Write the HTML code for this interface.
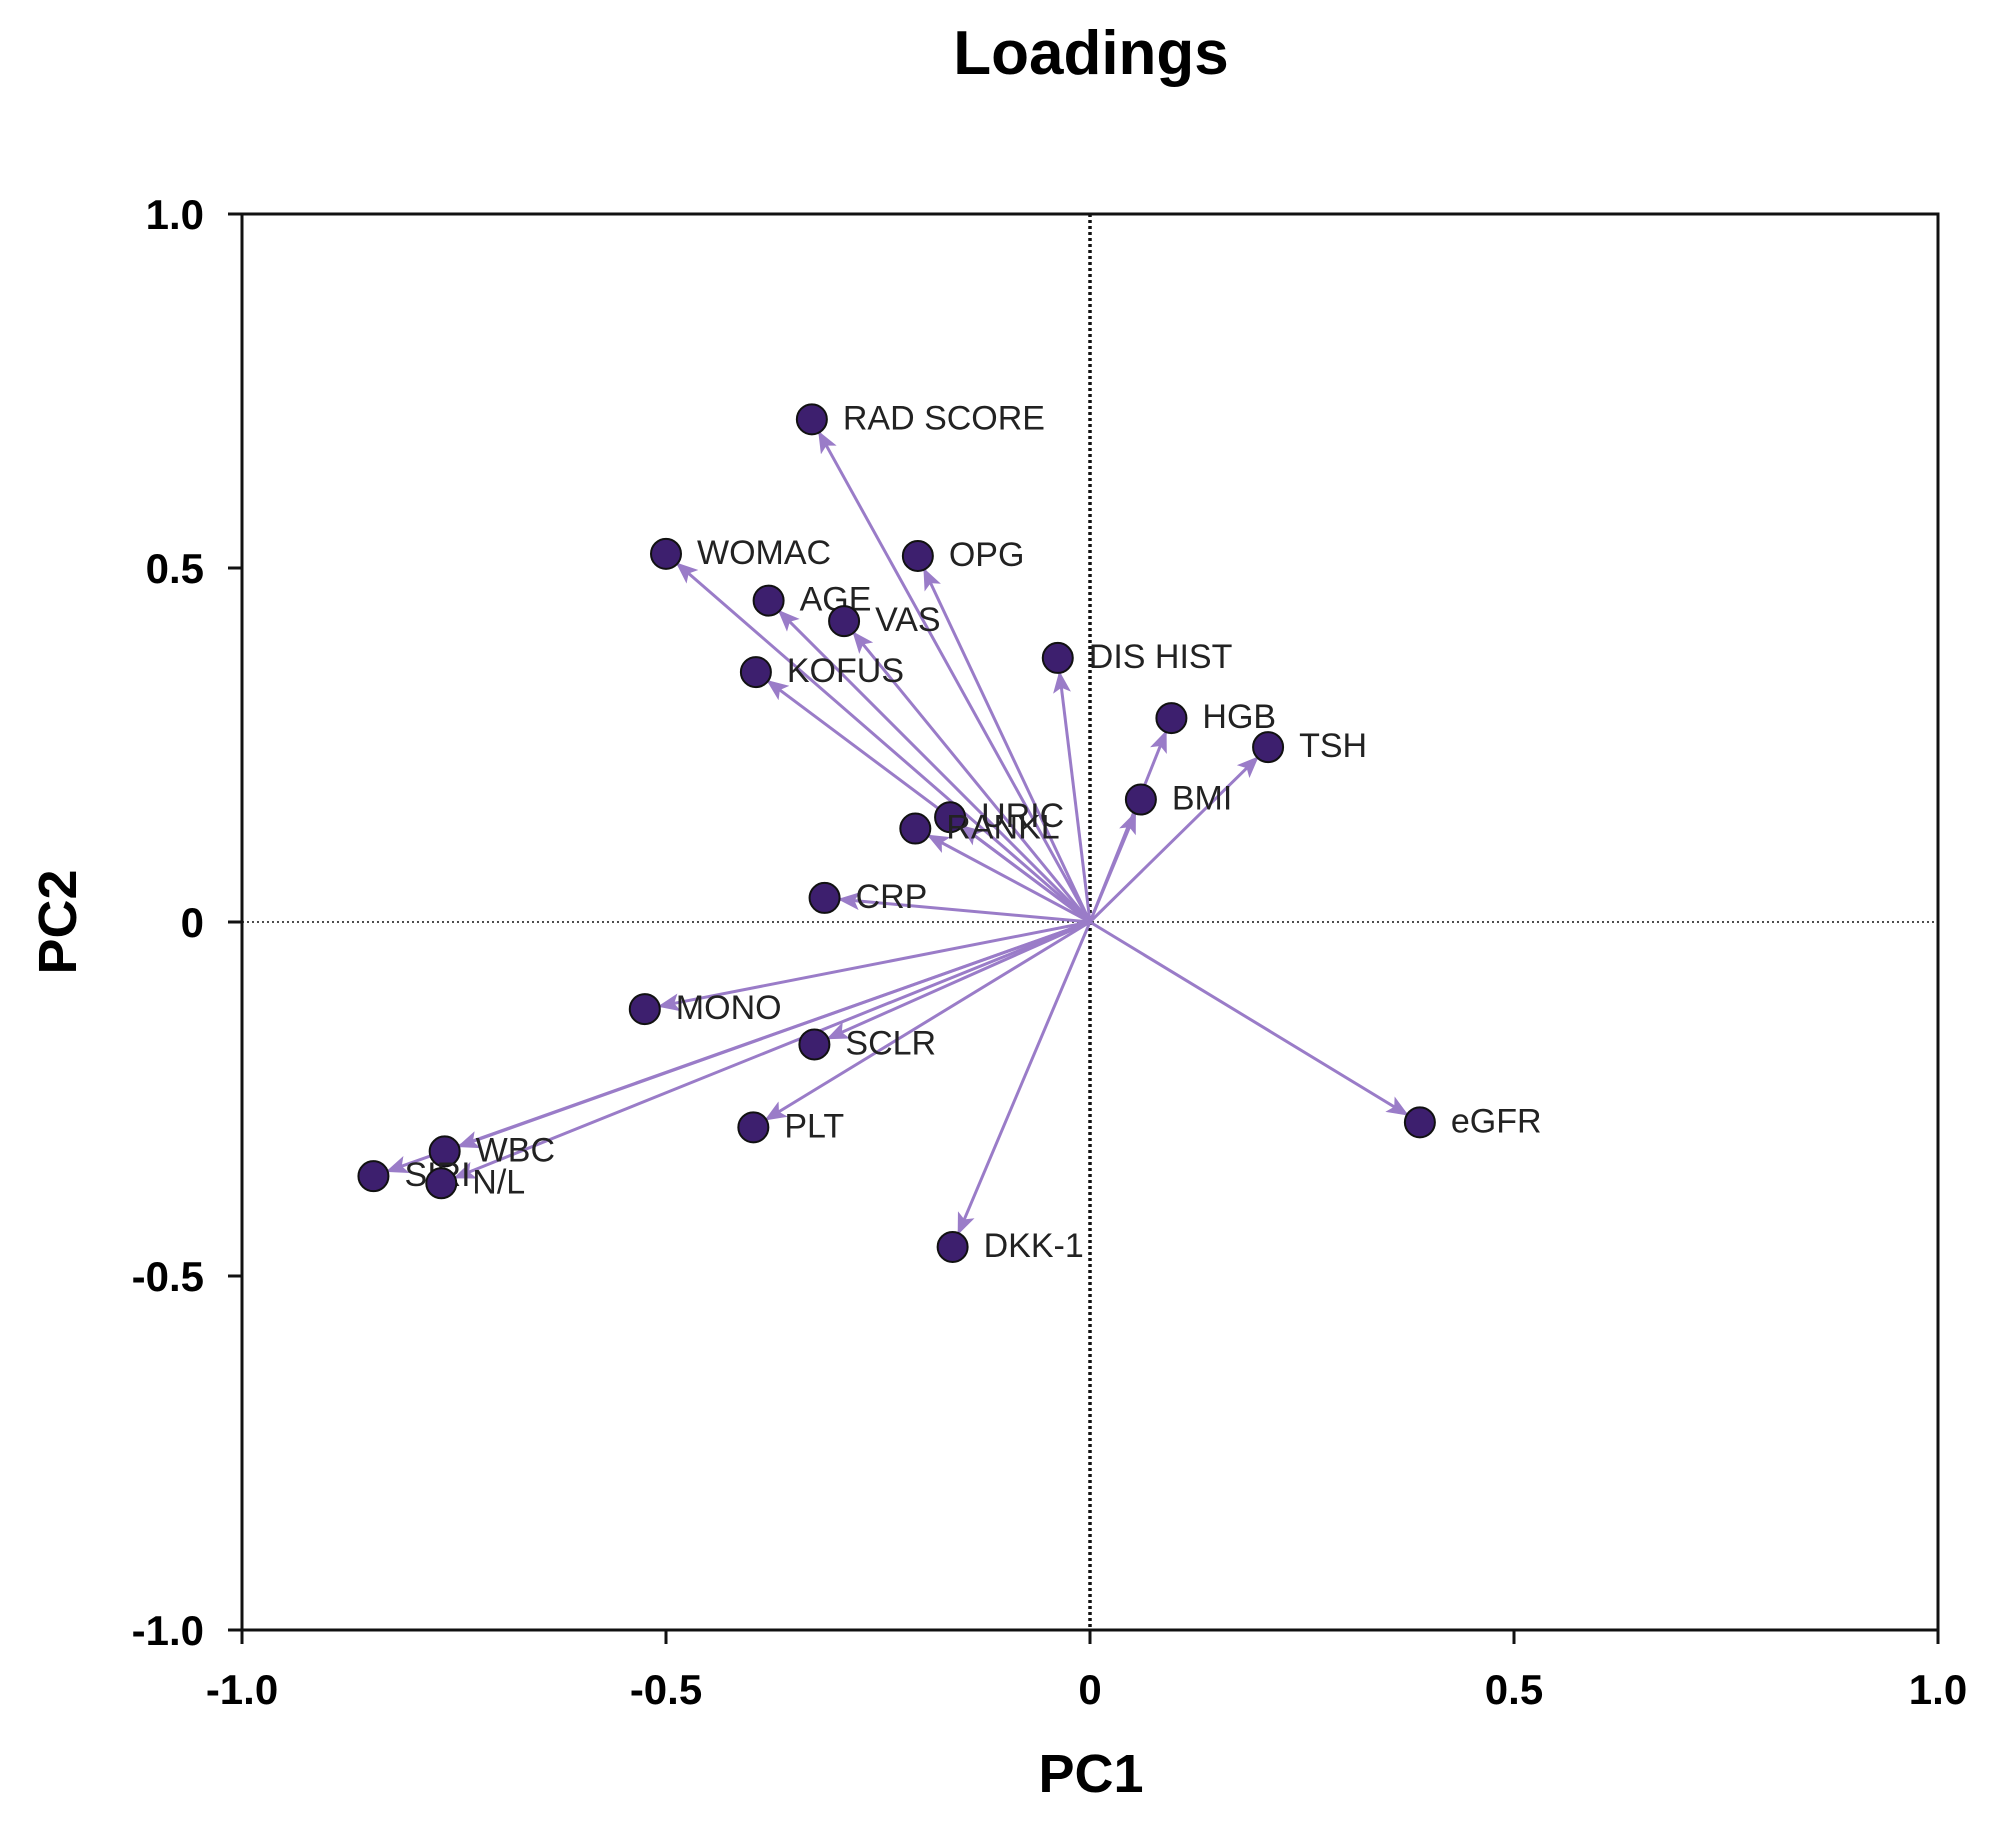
<!DOCTYPE html>
<html><head><meta charset="utf-8"><style>
html,body{margin:0;padding:0;background:#fff;}
svg{display:block;font-family:"Liberation Sans",Arial,sans-serif;}
</style></head><body>
<svg id="chart" width="2000" height="1831" viewBox="0 0 2000 1831" xmlns="http://www.w3.org/2000/svg">
<defs>
<marker id="ah" markerWidth="22" markerHeight="18" refX="20" refY="9" orient="auto" markerUnits="userSpaceOnUse" viewBox="0 0 22 18">
<path d="M0,0 L22,9 L0,18 L5,9 z" fill="#9a7cc8"/>
</marker>
</defs>
<text x="1091" y="74" text-anchor="middle" font-size="62" font-weight="bold">Loadings</text>
<text x="1091" y="1792" text-anchor="middle" font-size="54" font-weight="bold">PC1</text>
<text transform="translate(76,922) rotate(-90)" text-anchor="middle" font-size="54" font-weight="bold">PC2</text>
<g id="axes"></g>
<g id="arrows"></g>
<g id="points"></g>
</svg>
<script>
const labels=["RAD SCORE","WOMAC","OPG","AGE","VAS","KOFUS","DIS HIST","HGB","TSH","BMI","URIC","RANKL","CRP","MONO","SCLR","PLT","eGFR","WBC","SIRI","N/L","DKK-1"];
const pc1=[-0.328,-0.50,-0.203,-0.379,-0.29,-0.394,-0.038,0.096,0.21,0.06,-0.165,-0.206,-0.313,-0.525,-0.325,-0.397,0.389,-0.761,-0.845,-0.765,-0.162];
const pc2=[0.71,0.52,0.517,0.454,0.425,0.353,0.373,0.288,0.247,0.173,0.148,0.132,0.034,-0.123,-0.173,-0.29,-0.283,-0.324,-0.359,-0.369,-0.459];
const xTicks=[-1.0,-0.5,0,0.5,1.0];
const yTicks=[1.0,0.5,0,-0.5,-1.0];
const tickText=v=>v===0?"0":v.toFixed(1);
const X=v=>1090+v*848, Y=v=>922-v*708;
const NS="http://www.w3.org/2000/svg";
function mk(t,a,p){const e=document.createElementNS(NS,t);for(const k in a)e.setAttribute(k,a[k]);p.appendChild(e);return e;}
const ax=document.getElementById('axes');
let e;
e=mk('rect',{x:X(-1),y:Y(1),width:X(1)-X(-1),height:Y(-1)-Y(1),fill:'none',stroke:'#111','stroke-width':3},ax);

e=mk('line',{x1:X(0),y1:Y(1),x2:X(0),y2:Y(-1),stroke:'#111','stroke-width':3.5,'stroke-dasharray':'3 3'},ax);

e=mk('line',{x1:X(-1),y1:Y(0),x2:X(1),y2:Y(0),stroke:'#111','stroke-width':1.5,'stroke-dasharray':'2 3'},ax);

xTicks.forEach(v=>{
 e=mk('line',{x1:X(v),y1:Y(-1),x2:X(v),y2:Y(-1)+14,stroke:'#111','stroke-width':3},ax);
 
 e=mk('text',{x:X(v),y:Y(-1)+74,'text-anchor':'middle','font-size':42,'font-weight':'bold'},ax);e.textContent=tickText(v);
 
});
yTicks.forEach(v=>{
 e=mk('line',{x1:X(-1)-14,y1:Y(v),x2:X(-1),y2:Y(v),stroke:'#111','stroke-width':3},ax);
 
 e=mk('text',{x:X(-1)-38,y:Y(v)+15,'text-anchor':'end','font-size':42,'font-weight':'bold'},ax);e.textContent=tickText(v);
 
});
const ar=document.getElementById('arrows'),pt=document.getElementById('points');
labels.forEach((l,i)=>{
 const x=X(pc1[i]),y=Y(pc2[i]),x0=X(0),y0=Y(0);
 const dx=x-x0,dy=y-y0,d=Math.hypot(dx,dy),s=(d-15)/d;
 e=mk('line',{x1:x0,y1:y0,x2:x0+dx*s,y2:y0+dy*s,stroke:'#9a7cc8','stroke-width':3,'marker-end':'url(#ah)'},ar);
 
 e=mk('circle',{cx:x,cy:y,r:15,fill:'#3d1f6e',stroke:'#111','stroke-width':2},pt);
 
 e=mk('text',{x:x+31,y:y+10,'font-size':34,fill:'#222'},pt);e.textContent=l;
 
});
</script>
</body></html>
